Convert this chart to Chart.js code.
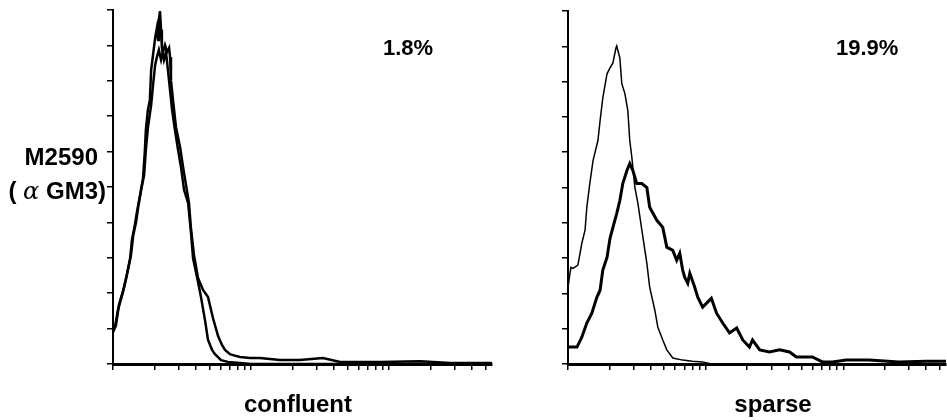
<!DOCTYPE html>
<html>
<head>
<meta charset="utf-8">
<script src="https://cdn.jsdelivr.net/npm/chart.js@4.4.0/dist/chart.umd.min.js"></script>
<style>
  body { margin: 0; background: #fff; }
  #wrap { position: relative; width: 947px; height: 420px; overflow: hidden; font-family: "Liberation Sans", Arial, Helvetica, sans-serif; font-weight: bold; color: #000; }
  canvas { position: absolute; top: 0; }
  .lbl { position: absolute; white-space: nowrap; font-size: 24px; line-height: 24px; }
  .pct { position: absolute; white-space: nowrap; font-size: 22px; line-height: 22px; }
  .greek { font-family: "DejaVu Serif", serif; font-style: italic; font-weight: normal; }
</style>
</head>
<body>
<div id="wrap">
  <canvas id="left" width="520" height="420" style="left:0"></canvas>
  <canvas id="right" width="427" height="420" style="left:520px"></canvas>
  <div class="lbl" style="left:0;width:98px;text-align:right;top:145px">M2590</div>
  <div class="lbl" style="left:0;width:106px;text-align:right;top:179px">( <span class="greek">&alpha;</span> GM3)</div>
  <div class="pct" style="left:383px;top:37px">1.8%</div>
  <div class="pct" style="left:836px;top:37px">19.9%</div>
  <div class="lbl" style="left:198px;width:200px;text-align:center;top:392px">confluent</div>
  <div class="lbl" style="left:673px;width:200px;text-align:center;top:392px">sparse</div>
</div>
<script>
// log axis tick positions (no labels in the figure)
const xTicks = [1, 2, 3, 4, 5, 6, 7, 8, 9, 10, 20, 30, 40, 50, 60, 70, 80, 90, 100, 200, 300, 400, 500];
const xMax = 557;

// confluent: control and M2590 histograms
const confCtrlX = [1.00, 1.034, 1.087, 1.18, 1.24, 1.33, 1.37, 1.44, 1.49, 1.57, 1.65, 1.70, 1.73, 1.79, 1.85, 1.89, 1.95, 2.02, 2.08, 2.12, 2.15, 2.19, 2.23, 2.26, 2.34, 2.42, 2.50, 2.59, 2.68, 2.81, 2.96, 3.11, 3.27, 3.50, 3.67, 3.80, 4.13, 4.34, 4.64, 4.88, 5.22, 5.48, 6.06, 6.81, 8.32, 10, 557];
const confCtrlY = [9.6, 10.5, 15.3, 20.3, 24.0, 29.7, 35.0, 39.3, 42.9, 47.7, 52.5, 59.9, 66.1, 71.8, 74.6, 83.1, 87.3, 92.1, 94.9, 91.5, 97.2, 99.7, 94.4, 89.3, 85.9, 88.1, 83.1, 77.4, 71.8, 66.1, 60.5, 55.6, 49.2, 45.5, 37.3, 29.9, 23.2, 18.9, 12.4, 6.8, 4.0, 2.8, 1.1, 0.6, 0.3, 0, 0];
const confAbX = [1.00, 1.051, 1.105, 1.20, 1.26, 1.35, 1.40, 1.47, 1.52, 1.60, 1.68, 1.73, 1.79, 1.89, 1.95, 2.02, 2.08, 2.15, 2.23, 2.30, 2.38, 2.46, 2.55, 2.59, 2.63, 2.72, 2.86, 3.06, 3.22, 3.38, 3.55, 3.67, 3.86, 4.13, 4.49, 4.88, 5.30, 5.77, 6.16, 6.48, 7.04, 7.41, 8.32, 9.83, 11.6, 16.2, 22.6, 33.2, 44.2, 86, 168, 277, 557];
const confAbY = [9.0, 11.0, 16.7, 21.5, 25.1, 30.8, 36.2, 40.1, 44.1, 49.2, 53.4, 60.5, 66.7, 73.2, 78.8, 84.5, 86.7, 88.7, 85.9, 88.1, 90.1, 88.1, 89.3, 86.7, 80.2, 74.6, 66.9, 61.3, 55.6, 50.6, 45.5, 38.4, 30.8, 24.3, 20.9, 18.9, 13.0, 7.9, 5.4, 4.0, 2.8, 2.5, 2.0, 1.7, 1.7, 1.1, 1.1, 1.7, 0.6, 0.6, 0.8, 0.3, 0.3];

// sparse: control and M2590 histograms
const sparseCtrlX = [1.00, 1.034, 1.05, 1.087, 1.18, 1.26, 1.33, 1.37, 1.44, 1.52, 1.65, 1.71, 1.79, 1.92, 2.02, 2.12, 2.23, 2.26, 2.38, 2.46, 2.59, 2.72, 2.81, 2.91, 3.06, 3.22, 3.44, 3.74, 3.92, 4.27, 4.49, 4.88, 5.22, 5.77, 6.81, 8.0, 9.51, 11, 557];
const sparseCtrlY = [21.8, 25.7, 27.4, 27.1, 28.0, 34.2, 37.9, 44.4, 51.1, 57.6, 63.3, 68.9, 75.4, 82.2, 83.9, 85.3, 89.5, 90.1, 86.7, 79.4, 76.6, 71.8, 63.3, 58.5, 50.0, 45.5, 37.9, 28.5, 21.8, 15.3, 10.5, 6.8, 4.0, 1.7, 1.1, 0.8, 0.6, 0, 0];
const sparseAbX = [1.00, 1.162, 1.26, 1.37, 1.49, 1.62, 1.71, 1.79, 1.92, 2.02, 2.12, 2.26, 2.38, 2.50, 2.68, 2.81, 2.96, 3.16, 3.44, 3.74, 3.92, 4.42, 4.88, 5.22, 5.77, 6.16, 6.48, 6.81, 7.04, 7.41, 7.67, 8.32, 8.76, 9.51, 11.0, 12.0, 13.3, 14.9, 16.8, 18.6, 20.8, 21.9, 24.7, 29.1, 34.4, 40.7, 45.6, 59.6, 70.5, 83.3, 105, 154, 254, 400, 557];
const sparseAbY = [4.8, 4.8, 7.6, 11.6, 14.4, 18.9, 20.9, 26.6, 30.2, 35.6, 38.7, 42.7, 46.3, 51.1, 54.8, 56.8, 54.8, 51.1, 51.1, 50.0, 44.4, 40.7, 38.7, 33.1, 32.2, 29.4, 31.4, 26.6, 24.6, 22.9, 25.7, 21.8, 18.9, 16.1, 18.6, 14.4, 11.6, 8.8, 10.2, 6.8, 4.8, 6.8, 4.0, 3.4, 4.0, 3.4, 2.0, 2.0, 0.6, 0.6, 1.1, 1.1, 0.6, 0.8, 0.8];

function toPoints(xs, ys) {
  return xs.map((x, i) => ({x: x, y: ys[i]}));
}

function line(xs, ys, width) {
  return {
    data: toPoints(xs, ys),
    borderColor: '#000',
    borderWidth: width,
    pointRadius: 0,
    tension: 0,
    fill: false
  };
}

function makePanel(id, datasets, padding) {
  return new Chart(document.getElementById(id), {
    type: 'line',
    data: {datasets: datasets},
    options: {
      responsive: false,
      animation: false,
      layout: {padding: padding},
      plugins: {legend: {display: false}, tooltip: {enabled: false}},
      scales: {
        x: {
          type: 'logarithmic',
          min: 1,
          max: xMax,
          afterBuildTicks: (scale) => { scale.ticks = xTicks.map(v => ({value: v})); },
          afterFit: (scale) => { scale.height = 7; },
          ticks: {display: false, autoSkip: false},
          grid: {drawOnChartArea: false, drawTicks: true, tickLength: 6, color: '#000', lineWidth: 1.5},
          border: {display: true, color: '#000', width: 3}
        },
        y: {
          min: 0,
          max: 100,
          afterFit: (scale) => { scale.width = 7; },
          ticks: {display: false, stepSize: 10},
          grid: {drawOnChartArea: false, drawTicks: true, tickLength: 6, color: '#000', lineWidth: 1.5},
          border: {display: true, color: '#000', width: 2}
        }
      }
    }
  });
}

makePanel('left', [
  line(confCtrlX, confCtrlY, 2.5),
  line(confAbX, confAbY, 2.5)
], {left: 106, right: 28, top: 10, bottom: 49});

makePanel('right', [
  line(sparseCtrlX, sparseCtrlY, 1.5),
  line(sparseAbX, sparseAbY, 3)
], {left: 41, right: 1, top: 11, bottom: 49});
</script>
</body>
</html>
